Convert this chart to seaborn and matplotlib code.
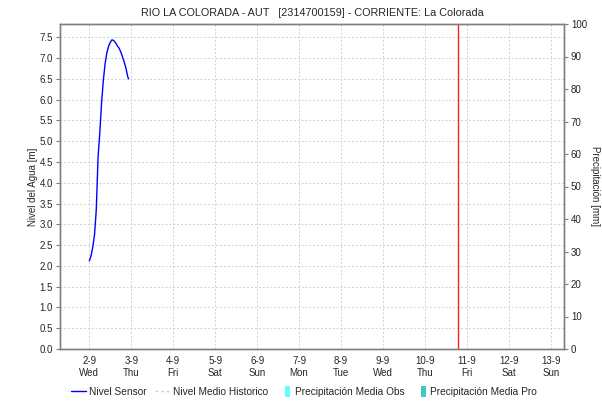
import numpy as np
import pandas as pd
import matplotlib
matplotlib.use("Agg")
import matplotlib.pyplot as plt
from matplotlib.lines import Line2D
from matplotlib.patches import Patch, Rectangle
from matplotlib.legend_handler import HandlerPatch
import seaborn as sns

# Sensor readings for 2 Sep 2020 (hours after midnight, level in m)
sensor_hours = [0, 1, 2, 3, 4, 5, 6, 7, 8, 9, 10, 11, 12, 13, 14, 15, 16, 17, 18, 19, 20, 21, 22, 22.5]
sensor_level = [2.12, 2.24, 2.45, 2.75, 3.35, 4.60, 5.20, 5.90, 6.45, 6.85, 7.12, 7.28, 7.38, 7.44,
                7.42, 7.37, 7.30, 7.24, 7.15, 7.03, 6.90, 6.75, 6.55, 6.50]

day_ticks = pd.date_range("2020-09-02", "2020-09-13", freq="D")
day_names = ["Wed", "Thu", "Fri", "Sat", "Sun", "Mon", "Tue", "Wed", "Thu", "Fri", "Sat", "Sun"]
tick_labels = [f"{d.day}-{d.month}\n{n}" for d, n in zip(day_ticks, day_names)]

now_marker = pd.Timestamp("2020-09-10 19:00")
x_start = pd.Timestamp("2020-09-01 07:15")
x_end = pd.Timestamp("2020-09-13 07:30")

title = "RIO LA COLORADA - AUT   [2314700159] - CORRIENTE: La Colorada"

df = pd.DataFrame({
    "time": pd.Timestamp("2020-09-02") + pd.to_timedelta(sensor_hours, unit="h"),
    "level": sensor_level,
})

sns.set_style("white")
plt.rcParams["font.family"] = ["Liberation Sans", "DejaVu Sans"]

fig = plt.figure(figsize=(6.02, 4.05), dpi=100)
ax = fig.add_axes([60 / 602, 1 - 349 / 405, (564 - 60) / 602, (349 - 24) / 405])

grid_kw = dict(color="#d0d0d0", linestyle=(0, (2, 2)), linewidth=0.7)
for t in day_ticks:
    ax.axvline(t, **grid_kw, zorder=0)
for yv in np.arange(0.5, 7.6, 0.5):
    ax.axhline(yv, **grid_kw, zorder=0)

sns.lineplot(data=df, x="time", y="level", ax=ax, color="#0000ff", linewidth=1.0)
ax.axvline(now_marker, color="#ff2020", linewidth=1.0)

ax.set_xlim(x_start, x_end)
ax.set_ylim(0, 7.82)
ax.set_yticks(np.arange(0, 7.6, 0.5))
ax.set_yticklabels([f"{v:.1f}" for v in np.arange(0, 7.6, 0.5)])
ax.set_xticks(day_ticks)
ax.set_xticklabels(tick_labels)
ax.tick_params(axis="x", length=0, labelsize=7, pad=5)
ax.tick_params(axis="y", length=3, width=0.8, color="#808080", labelsize=7, pad=2)
ax.set_xlabel("")
ax.set_ylabel("Nivel del Agua [m]", fontsize=7, labelpad=1)
for s in ax.spines.values():
    s.set_color("#808080")
    s.set_linewidth(1.0)

ax2 = ax.twinx()
ax2.set_ylim(0, 100)
ax2.set_yticks(np.arange(0, 101, 10))
ax2.tick_params(axis="y", length=3, width=0.8, color="#808080", labelsize=7, pad=2)
ax2.set_ylabel("Precipitación [mm]", fontsize=7, rotation=-90, labelpad=9)
for s in ax2.spines.values():
    s.set_color("#808080")
    s.set_linewidth(1.0)

ax.set_title(title, fontsize=7.8, pad=6)


def narrow_box(legend, orig_handle, xdescent, ydescent, width, height, fontsize):
    return Rectangle((width - 5 - xdescent, -ydescent - 1), 4, height + 2)


handles = [
    Line2D([], [], color="#0000ff", linewidth=1.0),
    Line2D([], [], color="#d0d0d0", linewidth=1.0, linestyle=(0, (2, 2))),
    Patch(facecolor="#5fffff", edgecolor="none"),
    Patch(facecolor="#40c8c8", edgecolor="none"),
]
labels = ["Nivel Sensor", "Nivel Medio Historico", "Precipitación Media Obs", "Precipitación Media Pro"]
fig.legend(handles, labels, loc="center", bbox_to_anchor=(0.505, 1 - 392 / 405), ncol=4,
           frameon=False, fontsize=7.3, handlelength=1.5, handleheight=1.0, handletextpad=0.3,
           columnspacing=0.8, handler_map={Patch: HandlerPatch(patch_func=narrow_box)})

fig.savefig("out.png", dpi=100)
